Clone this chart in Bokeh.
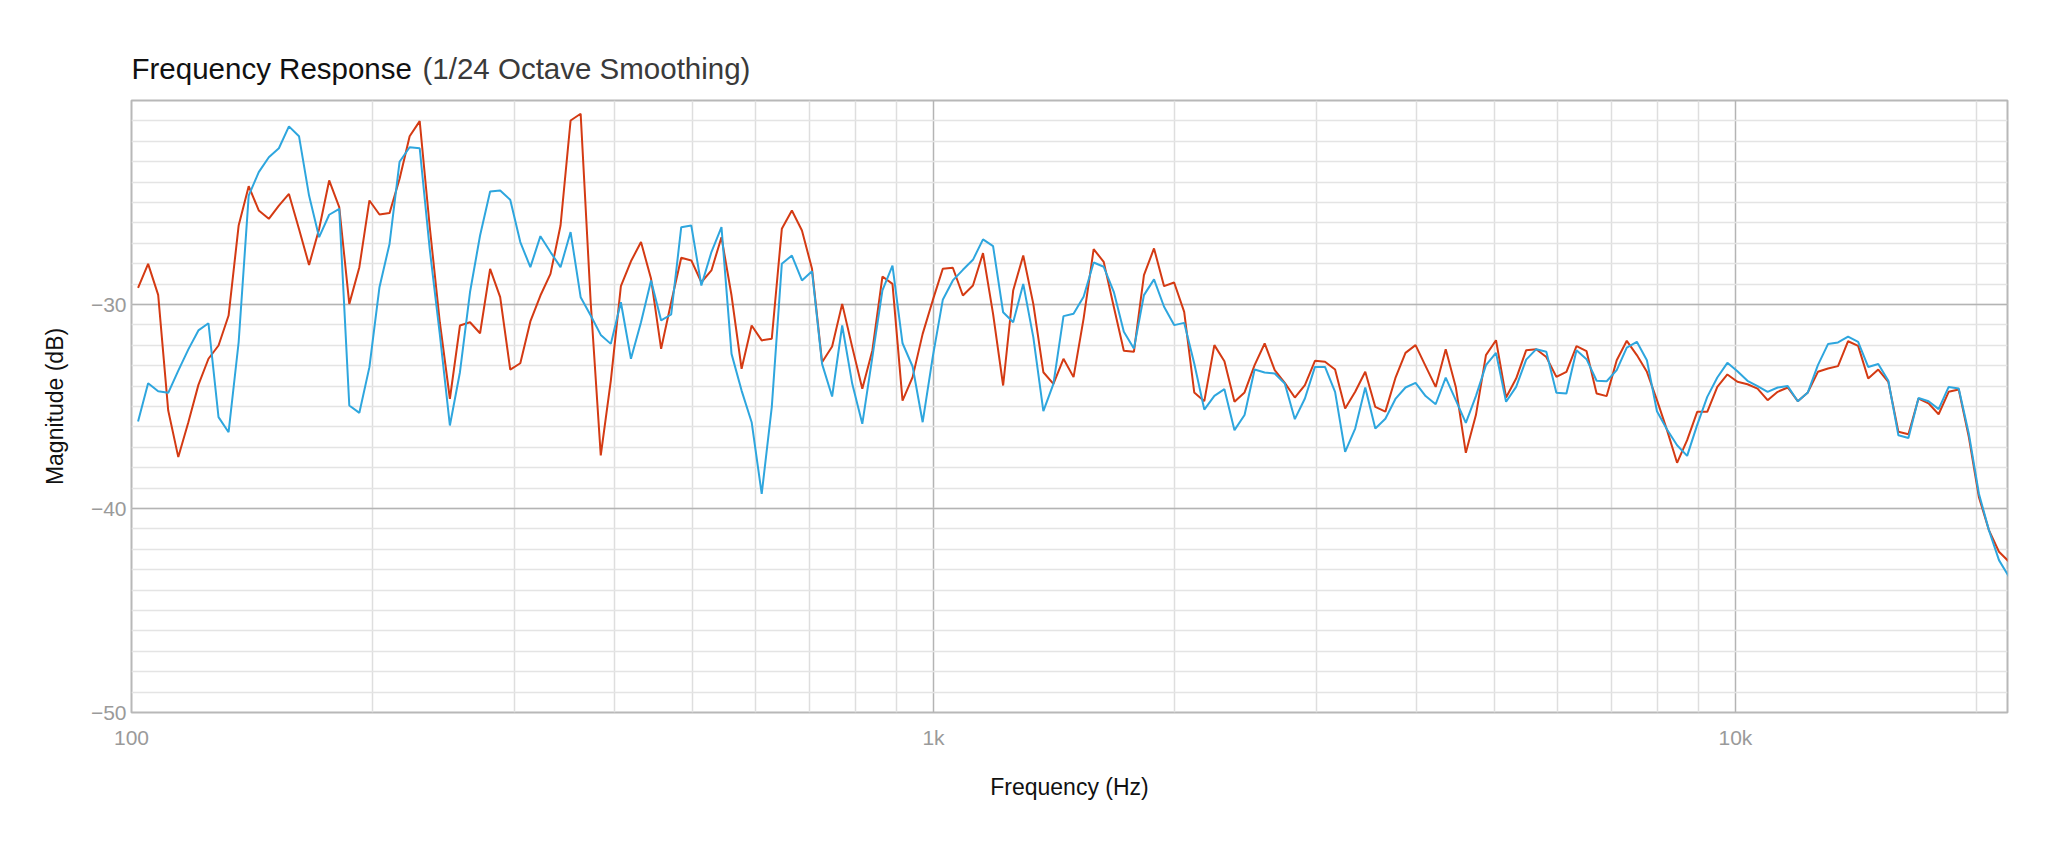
from bokeh.plotting import figure
from bokeh.layouts import column
from bokeh.embed import file_html
from bokeh.resources import INLINE
from bokeh.models import FixedTicker, CustomJSTickFormatter, ColumnDataSource
from bokeh.core.properties import value

# ---- data -------------------------------------------------------------
# 1/24-octave analysis grid (first band centre)
FREQ_START = 101.9
BANDS_PER_OCTAVE = 24

red_db = [
    -29.18, -28.01, -29.53, -35.2, -37.48, -35.77, -33.94, -32.66, -32.01, -30.54,
    -26.13, -24.2, -25.39, -25.8, -25.15, -24.58, -26.3, -28.06, -26.3, -23.92,
    -25.23, -29.97, -28.17, -24.9, -25.59, -25.52, -23.84, -21.75, -21.01, -26.2,
    -30.87, -34.62, -31.03, -30.87, -31.41, -28.25, -29.64, -33.19, -32.88, -30.83,
    -29.56, -28.5, -26.13, -20.98, -20.65, -29.9, -37.4, -33.73, -29.1, -27.88,
    -26.94, -28.74, -32.17, -29.89, -27.71, -27.84, -28.91, -28.33, -26.7, -29.56,
    -33.15, -31.03, -31.76, -31.68, -26.29, -25.39, -26.37, -28.25, -32.83, -32.06,
    -29.97, -32.09, -34.13, -32.25, -28.63, -28.99, -34.71, -33.56, -31.44, -29.8,
    -28.25, -28.2, -29.56, -29.07, -27.48, -30.46, -33.97, -29.31, -27.6, -29.97,
    -33.32, -33.89, -32.66, -33.56, -30.69, -27.29, -27.91, -30.11, -32.27, -32.32,
    -28.56, -27.25, -29.1, -28.92, -30.36, -34.31, -34.74, -31.99, -32.78, -34.77,
    -34.31, -32.97, -31.91, -33.22, -33.84, -34.56, -33.95, -32.76, -32.81, -33.19,
    -35.1, -34.28, -33.3, -35.02, -35.25, -33.6, -32.37, -31.99, -33.02, -34.04,
    -32.19, -34.04, -37.27, -35.42, -32.48, -31.75, -34.56, -33.63, -32.24, -32.19,
    -32.57, -33.55, -33.3, -32.04, -32.29, -34.36, -34.49, -32.73, -31.78, -32.48,
    -33.3, -34.69, -36.16, -37.76, -36.65, -35.26, -35.26, -34.04, -33.43, -33.79,
    -33.91, -34.12, -34.69, -34.28, -34.07, -34.74, -34.31, -33.3, -33.14, -33.02,
    -31.8, -32.03, -33.63, -33.19, -33.79, -36.24, -36.36, -34.61, -34.85, -35.38,
    -34.28, -34.17, -36.49, -39.43, -41.06, -42.12, -42.61,
]

blue_db = [
    -35.74, -33.86, -34.25, -34.33, -33.24, -32.2, -31.27, -30.92, -35.52, -36.26,
    -31.85, -24.66, -23.51, -22.78, -22.34, -21.27, -21.75, -24.66, -26.7, -25.6,
    -25.31, -34.95, -35.31, -33.07, -29.15, -27.03, -23.0, -22.29, -22.34, -27.3,
    -31.47, -35.93, -33.32, -29.4, -26.62, -24.46, -24.41, -24.87, -26.94, -28.17,
    -26.65, -27.43, -28.17, -26.45, -29.64, -30.54, -31.49, -31.93, -29.89, -32.66,
    -30.87, -28.82, -30.78, -30.49, -26.21, -26.13, -29.07, -27.43, -26.21, -32.42,
    -34.22, -35.77, -39.28, -35.03, -28.0, -27.6, -28.82, -28.37, -32.91, -34.51,
    -31.03, -33.89, -35.85, -32.58, -29.31, -28.09, -31.9, -33.04, -35.77, -32.58,
    -29.77, -28.82, -28.3, -27.81, -26.81, -27.14, -30.38, -30.87, -28.99, -31.6,
    -35.23, -33.89, -30.57, -30.45, -29.62, -27.94, -28.15, -29.38, -31.34, -32.16,
    -29.54, -28.77, -30.11, -31.01, -30.9, -32.89, -35.15, -34.48, -34.15, -36.16,
    -35.42, -33.19, -33.33, -33.38, -33.87, -35.62, -34.61, -33.06, -33.06, -34.28,
    -37.22, -36.08, -34.07, -36.08, -35.6, -34.63, -34.07, -33.84, -34.49, -34.89,
    -33.58, -34.69, -35.8, -34.49, -32.97, -32.37, -34.77, -34.04, -32.7, -32.19,
    -32.32, -34.33, -34.36, -32.24, -32.68, -33.74, -33.76, -33.22, -32.11, -31.83,
    -32.73, -35.23, -36.13, -36.9, -37.42, -35.9, -34.53, -33.58, -32.86, -33.27,
    -33.74, -34.0, -34.28, -34.07, -34.0, -34.74, -34.31, -32.97, -31.94, -31.86,
    -31.58, -31.83, -33.06, -32.92, -33.74, -36.41, -36.54, -34.58, -34.74, -35.13,
    -34.04, -34.12, -36.32, -39.26, -41.06, -42.53, -43.35,
]

freqs = [FREQ_START * 2 ** (i / BANDS_PER_OCTAVE) for i in range(len(red_db))]

x_major_ticks = [100, 1000, 10000]
x_minor_ticks = [200, 300, 400, 500, 600, 700, 800, 900,
                 2000, 3000, 4000, 5000, 6000, 7000, 8000, 9000, 20000]
y_major_ticks = [-50, -40, -30]
y_minor_ticks = list(range(-50, -19))

title_main = "Frequency Response"
title_sub = "(1/24 Octave Smoothing)"
x_label = "Frequency (Hz)"
y_label = "Magnitude (dB)"

RED = "#d43a13"
BLUE = "#2ea6de"

W = 2040
TITLE_H = 92
H = 845 - TITLE_H
BL, BR, BT, BB = 131, 33, 8, 133

# ---- title strip (page pixel coordinates, y downward) ----------------------
t = figure(width=W, height=TITLE_H, x_range=(BL, W - BR), y_range=(TITLE_H, 0),
           output_backend="svg", toolbar_location=None,
           x_axis_location=None, y_axis_location=None,
           min_border_left=BL, min_border_right=BR,
           min_border_top=0, min_border_bottom=0)
t.grid.visible = False
t.outline_line_color = None
t.background_fill_color = "white"
t.border_fill_color = "white"
t.text(x=[BL], y=[68], text=[title_main], text_font=value("Liberation Sans"),
       text_font_size="29.5px", text_color="#111111",
       text_align="left", text_baseline="alphabetic")
t.text(x=[BL + 291], y=[68], text=[title_sub], text_font=value("Liberation Sans"),
       text_font_size="29.5px", text_color="#3a3a3a",
       text_align="left", text_baseline="alphabetic")

# ---- main figure ------------------------------------------------------------
p = figure(width=W, height=H, x_axis_type="log",
           x_range=(100, 21840), y_range=(-50, -20),
           output_backend="svg", toolbar_location=None,
           min_border_left=BL, min_border_right=BR,
           min_border_top=BT, min_border_bottom=BB)
p.background_fill_color = "white"
p.border_fill_color = "white"
p.outline_line_color = "#b8b8b8"
p.outline_line_width = 2

src = ColumnDataSource(dict(f=freqs, red=red_db, blue=blue_db))
p.line("f", "red", source=src, line_color=RED, line_width=2)
p.line("f", "blue", source=src, line_color=BLUE, line_width=2)

# axes
p.xaxis.ticker = FixedTicker(ticks=x_major_ticks, minor_ticks=x_minor_ticks)
p.yaxis.ticker = FixedTicker(ticks=y_major_ticks, minor_ticks=y_minor_ticks)
p.xaxis.formatter = CustomJSTickFormatter(
    code="return tick >= 1000 ? (tick/1000) + 'k' : tick.toFixed(0);")
p.yaxis.formatter = CustomJSTickFormatter(
    code="return tick < 0 ? '\u2212' + Math.abs(tick).toFixed(0) : tick.toFixed(0);")

for ax in (p.xaxis, p.yaxis):
    ax.axis_line_color = None
    ax.major_tick_line_color = None
    ax.minor_tick_line_color = None
    ax.major_tick_out = 0
    ax.major_tick_in = 0
    ax.minor_tick_out = 0
    ax.minor_tick_in = 0
    ax.major_label_text_font = "Liberation Sans"
    ax.major_label_text_font_size = "21px"
    ax.major_label_text_color = "#9a9a9a"
    ax.axis_label_text_font = "Liberation Sans"
    ax.axis_label_text_font_size = "23px"
    ax.axis_label_text_font_style = "normal"
    ax.axis_label_text_color = "#111111"

p.xaxis.axis_label = x_label
p.yaxis.axis_label = y_label
p.xaxis.major_label_standoff = 13
p.yaxis.major_label_standoff = 5
p.xaxis.axis_label_standoff = 22
p.yaxis.axis_label_standoff = 20

# grids
p.xgrid.grid_line_color = "#b4b4b4"
p.xgrid.grid_line_width = 1.5
p.xgrid.minor_grid_line_color = "#dedede"
p.xgrid.minor_grid_line_width = 1.5
p.ygrid.grid_line_color = "#b4b4b4"
p.ygrid.grid_line_width = 1.5
p.ygrid.minor_grid_line_color = "#e4e4e4"
p.ygrid.minor_grid_line_width = 1.5

layout = column(t, p, spacing=0)
open("out.html", "w").write(file_html(layout, INLINE))
